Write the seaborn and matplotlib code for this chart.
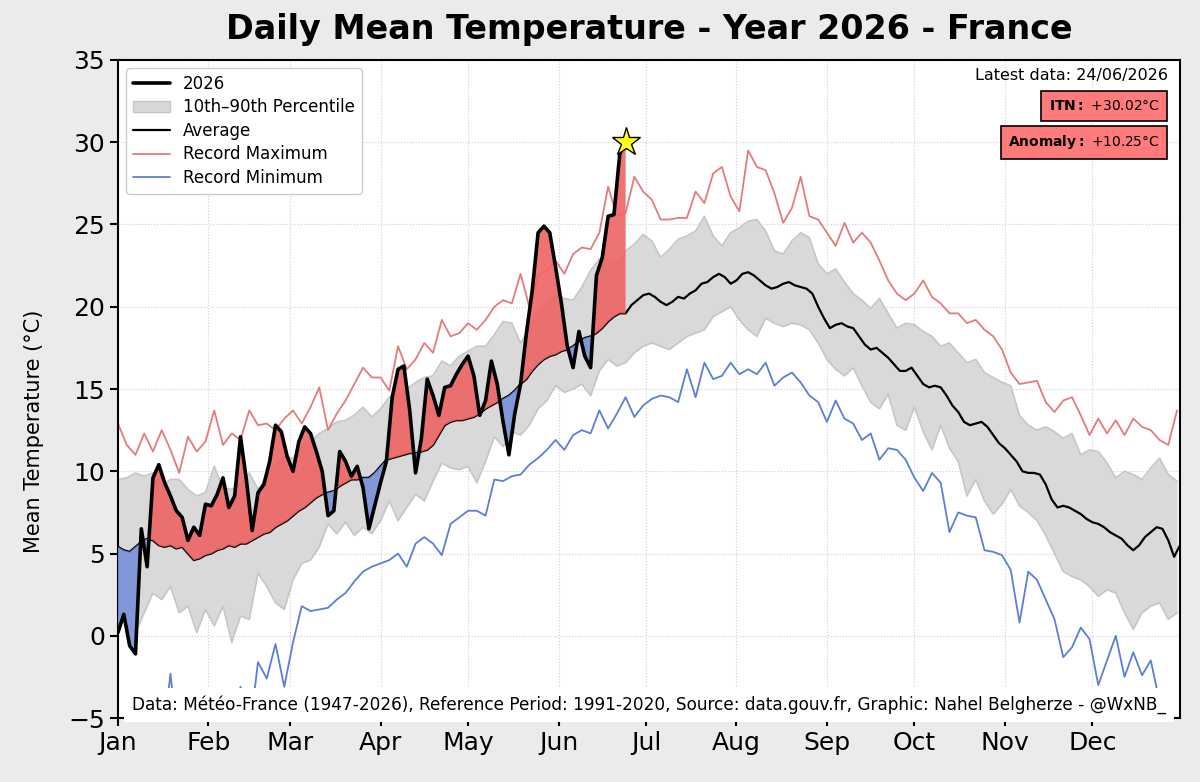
import matplotlib
matplotlib.use("Agg")
import matplotlib.pyplot as plt
import numpy as np
import seaborn as sns
from matplotlib.patches import Patch
from matplotlib.lines import Line2D

# ---- data ----
month_labels = ["Jan", "Feb", "Mar", "Apr", "May", "Jun",
                "Jul", "Aug", "Sep", "Oct", "Nov", "Dec"]
month_starts = [0, 31, 59, 90, 120, 151, 181, 212, 243, 273, 304, 334]

# climatology sampled every 3 days (day 0 .. 363)
days_clim = np.arange(0, 364, 3)
record_max = [
    12.9, 11.6, 11.0, 12.3, 11.2, 12.5, 11.3, 9.9, 12.1, 11.2,
    11.8, 13.7, 11.6, 12.3, 11.9, 13.7, 12.8, 12.9, 12.5, 13.2,
    13.7, 12.9, 13.9, 15.1, 12.5, 13.5, 14.3, 15.3, 16.3, 15.7,
    15.7, 14.9, 17.6, 16.2, 16.8, 17.8, 17.2, 19.2, 18.2, 18.4,
    19.0, 18.6, 19.2, 20.0, 20.4, 20.2, 22.0, 20.0, 21.9, 22.2,
    22.8, 22.0, 23.2, 23.6, 23.5, 24.5, 27.3, 25.5, 25.7, 27.9,
    27.0, 26.5, 25.3, 25.3, 25.4, 25.4, 27.0, 26.3, 28.1, 28.5,
    26.7, 25.8, 29.5, 28.5, 28.3, 26.9, 25.1, 26.0, 27.9, 25.5,
    25.3, 24.5, 23.7, 25.1, 23.9, 24.5, 23.9, 22.8, 21.6, 20.8,
    20.4, 20.8, 21.6, 20.6, 20.2, 19.6, 19.6, 19.0, 19.2, 18.6,
    18.2, 17.4, 16.0, 15.3, 15.4, 15.5, 14.2, 13.6, 14.3, 14.5,
    13.4, 12.2, 13.2, 12.3, 13.1, 12.2, 13.2, 12.7, 12.5, 11.9,
    11.6, 13.7,
]
record_min = [
    -9.0, -8.0, -10.0, -8.5, -9.5, -7.0, -2.3, -7.5, -9.0, -8.0,
    -10.5, -8.5, -7.5, -6.5, -3.1, -6.0, -1.6, -2.6, -0.5, -3.1,
    -0.4, 1.8, 1.5, 1.6, 1.7, 2.2, 2.6, 3.3, 3.9, 4.2,
    4.4, 4.6, 5.0, 4.2, 5.6, 6.0, 5.6, 4.9, 6.8, 7.2,
    7.6, 7.6, 7.3, 9.5, 9.4, 9.7, 9.8, 10.4, 10.8, 11.3,
    11.9, 11.3, 12.2, 12.5, 12.3, 13.7, 12.6, 13.5, 14.5, 13.3,
    14.0, 14.4, 14.6, 14.5, 14.2, 16.2, 14.5, 16.6, 15.6, 15.8,
    16.6, 15.9, 16.2, 15.9, 16.6, 15.2, 15.7, 16.0, 15.4, 14.6,
    14.2, 13.0, 14.3, 13.2, 12.9, 11.9, 12.3, 10.7, 11.4, 11.3,
    10.7, 9.6, 8.8, 9.9, 9.3, 6.3, 7.5, 7.3, 7.2, 5.2,
    5.1, 4.9, 4.0, 0.8, 3.9, 3.4, 2.2, 1.0, -1.3, -0.7,
    0.5, -0.2, -3.0, -1.5, 0.0, -2.5, -1.0, -2.4, -1.5, -4.0,
    -6.0, -5.5,
]
pct90 = [
    9.5, 9.6, 9.9, 9.7, 9.9, 9.1, 9.5, 9.5, 8.9, 8.5,
    8.7, 10.3, 9.0, 8.9, 9.2, 9.9, 8.9, 9.6, 10.4, 10.9,
    10.8, 11.6, 11.8, 12.3, 12.6, 13.0, 13.1, 13.4, 13.9, 13.3,
    13.8, 14.5, 14.7, 15.0, 15.4, 15.7, 15.8, 16.7, 16.4, 17.0,
    17.3, 17.6, 17.6, 18.3, 19.1, 19.0, 17.8, 18.7, 19.8, 20.3,
    20.8, 20.5, 20.4, 21.2, 22.2, 22.9, 22.8, 22.6, 23.4, 23.8,
    24.4, 24.0, 23.0, 23.5, 24.1, 24.3, 24.6, 25.5, 24.3, 23.7,
    24.5, 24.8, 25.2, 25.3, 24.6, 23.4, 23.2, 24.0, 24.5, 24.2,
    22.6, 22.0, 22.3, 21.5, 20.8, 20.4, 19.9, 20.5, 19.6, 18.7,
    19.0, 18.9, 18.5, 18.2, 17.6, 17.8, 17.2, 16.6, 16.8, 16.0,
    15.7, 15.4, 15.2, 13.4, 12.8, 12.5, 12.7, 12.4, 12.0, 12.3,
    11.0, 11.3, 11.2, 10.5, 9.6, 10.0, 9.8, 9.5, 10.2, 10.8,
    9.8, 9.4,
]
pct10 = [
    1.5, 0.6, 0.2, 1.4, 2.6, 2.2, 3.0, 1.4, 1.8, 0.2,
    1.6, 0.6, 1.8, -0.4, 1.2, 1.0, 3.8, 3.0, 2.0, 1.6,
    3.4, 4.4, 4.6, 5.4, 6.8, 6.2, 6.9, 6.1, 6.6, 6.2,
    7.0, 8.2, 7.0, 7.8, 8.6, 8.2, 9.4, 10.5, 10.2, 10.1,
    10.3, 9.3, 10.6, 12.1, 11.5, 12.4, 12.2, 12.8, 13.8, 14.3,
    15.2, 14.8, 15.0, 15.3, 14.6, 16.1, 16.8, 16.4, 16.6, 17.2,
    17.6, 17.8, 17.6, 17.4, 17.8, 18.2, 18.4, 18.6, 19.4, 19.7,
    20.0, 19.2, 18.6, 18.2, 19.3, 19.0, 18.8, 19.0, 18.9, 18.6,
    17.8, 16.8, 16.2, 15.8, 16.3, 15.2, 14.2, 13.8, 14.7, 12.8,
    12.5, 13.9, 12.4, 11.3, 12.8, 11.4, 10.6, 8.5, 9.5, 8.2,
    7.4, 8.0, 8.9, 7.9, 7.5, 7.0, 6.1, 5.0, 3.9, 3.6,
    3.4, 3.0, 2.4, 2.8, 2.6, 1.4, 0.4, 1.4, 1.8, 2.0,
    1.0, 1.4,
]

# average sampled every 2 days (day 0 .. 364)
days_avg = np.arange(0, 365, 2)
average = [
    5.4, 5.2, 5.1, 5.4, 5.7, 5.9, 5.8, 5.5, 5.4, 5.5,
    5.3, 5.4, 5.0, 4.6, 4.7, 4.9, 5.0, 5.2, 5.3, 5.5,
    5.4, 5.6, 5.6, 5.8, 6.0, 6.2, 6.3, 6.6, 6.8, 7.0,
    7.3, 7.6, 7.8, 8.1, 8.4, 8.6, 8.7, 8.8, 9.1, 9.3,
    9.5, 9.5, 9.6, 9.6, 9.9, 10.3, 10.7, 10.8, 10.9, 11.0,
    11.1, 11.1, 11.2, 11.3, 11.6, 12.2, 12.8, 13.0, 13.1, 13.1,
    13.2, 13.3, 13.5, 13.8, 14.0, 14.2, 14.4, 14.6, 14.9, 15.3,
    15.6, 16.1, 16.5, 16.8, 17.0, 17.1, 17.3, 17.4, 17.6, 17.9,
    18.1, 18.2, 18.4, 18.7, 19.1, 19.4, 19.6, 19.6, 20.1, 20.4,
    20.7, 20.8, 20.6, 20.3, 20.1, 20.3, 20.6, 20.5, 20.8, 21.0,
    21.4, 21.5, 21.8, 22.0, 21.8, 21.4, 21.6, 22.0, 22.1, 21.9,
    21.6, 21.3, 21.1, 21.2, 21.4, 21.5, 21.3, 21.2, 21.1, 20.8,
    20.0, 19.3, 18.7, 18.9, 19.0, 18.8, 18.7, 18.2, 17.7, 17.4,
    17.5, 17.2, 16.9, 16.5, 16.1, 16.1, 16.3, 15.8, 15.3, 15.1,
    15.2, 15.1, 14.6, 14.0, 13.6, 13.0, 12.8, 12.9, 13.0, 12.7,
    12.2, 11.7, 11.4, 11.0, 10.6, 10.0, 9.9, 9.9, 9.8, 9.2,
    8.3, 7.8, 7.9, 7.8, 7.6, 7.4, 7.1, 6.9, 6.8, 6.6,
    6.3, 6.1, 5.9, 5.5, 5.2, 5.5, 6.0, 6.3, 6.6, 6.5,
    5.8, 4.8, 5.5,
]

# 2026 observations every 2 days up to 24/06 (day 174)
days_2026 = np.arange(0, 175, 2)
temp_2026 = [
    0.2, 1.3, -0.6, -1.1, 6.5, 4.2, 9.6, 10.4, 9.3, 8.5,
    7.6, 7.2, 5.8, 6.6, 6.1, 8.0, 7.9, 8.6, 9.6, 7.8,
    8.5, 12.1, 9.5, 6.4, 8.7, 9.2, 10.6, 12.8, 12.4, 10.9,
    10.0, 11.8, 12.7, 12.3, 11.2, 10.0, 7.3, 7.6, 11.2, 10.6,
    9.7, 10.3, 9.0, 6.5, 7.9, 9.3, 10.6, 14.5, 16.2, 16.4,
    13.7, 9.9, 12.0, 15.6, 14.6, 13.4, 15.1, 15.2, 15.9, 16.5,
    17.0, 15.8, 13.4, 14.3, 16.7, 15.3, 13.0, 11.0, 13.5, 15.3,
    18.4, 21.0, 24.5, 24.9, 24.5, 22.4, 20.2, 17.6, 16.3, 18.5,
    17.0, 16.3, 21.9, 23.0, 25.5, 25.6, 29.3, 30.02,
]

latest_label = "Latest data: 24/06/2026"
itn_label = r"$\bf{ITN{:}}$ +30.02°C"
anomaly_label = r"$\bf{Anomaly{:}}$ +10.25°C"
source_label = ("Data: Météo-France (1947-2026), Reference Period: 1991-2020, "
                "Source: data.gouv.fr, Graphic: Nahel Belgherze - @WxNB_")

# ---- styling ----
sns.set_style("ticks")
plt.rcParams['font.family'] = ['DejaVu Sans']
plt.rcParams['text.color'] = 'black'
plt.rcParams['axes.labelcolor'] = 'black'
plt.rcParams['xtick.color'] = 'black'
plt.rcParams['ytick.color'] = 'black'

RED_LINE = '#e57b7b'
BLUE_LINE = '#5b7fd6'
BAND = '#d9d9d9'
BAND_EDGE = '#c6c6c6'
RED_FILL = '#ef6464'
BLUE_FILL = '#7890d8'

fig, ax = plt.subplots(figsize=(12, 7.82), dpi=100)
fig.patch.set_facecolor('#ebebeb')
ax.set_facecolor('white')
fig.subplots_adjust(left=0.0983, right=0.9833, top=0.9233, bottom=0.0818)

# percentile band
ax.fill_between(days_clim, pct10, pct90, color=BAND, lw=0, zorder=1)
sns.lineplot(x=days_clim, y=pct90, ax=ax, color=BAND_EDGE, lw=1.2, zorder=1.5)
sns.lineplot(x=days_clim, y=pct10, ax=ax, color=BAND_EDGE, lw=1.2, zorder=1.5)

# records
sns.lineplot(x=days_clim, y=record_max, ax=ax, color=RED_LINE, lw=1.3, zorder=2)
sns.lineplot(x=days_clim, y=record_min, ax=ax, color=BLUE_LINE, lw=1.3, zorder=2)

# average
sns.lineplot(x=days_avg, y=average, ax=ax, color='black', lw=1.6, zorder=3)

# anomaly fills 2026 vs average
t26 = np.array(temp_2026)
avg26 = np.array(average[:len(temp_2026)])
ax.fill_between(days_2026, t26, avg26, where=t26 >= avg26, interpolate=True,
                color=RED_FILL, alpha=0.9, lw=0, zorder=3.5)
ax.fill_between(days_2026, t26, avg26, where=t26 < avg26, interpolate=True,
                color=BLUE_FILL, alpha=0.9, lw=0, zorder=3.5)

# 2026 line + star on last value
sns.lineplot(x=days_2026, y=temp_2026, ax=ax, color='black', lw=2.6, zorder=4)
ax.plot(days_2026[-1], temp_2026[-1], marker='*', ms=21, mfc='#ffff1a',
        mec='black', mew=1.0, zorder=5, linestyle='none')

# axes
ax.set_xlim(0, 364)
ax.set_ylim(-5, 35)
ax.set_xticks(month_starts)
ax.set_xticklabels(month_labels)
ax.set_yticks(np.arange(-5, 36, 5))
ax.tick_params(axis='both', labelsize=18, length=6, width=1.5, direction='out')
ax.grid(True, linestyle=':', color='#cfcfcf', lw=0.8, zorder=0)
ax.set_axisbelow(True)
for sp in ax.spines.values():
    sp.set_visible(True)
    sp.set_linewidth(1.5)
    sp.set_color('black')

ax.set_xlabel('')
ax.set_ylabel('Mean Temperature (°C)', fontsize=15)
ax.yaxis.set_label_coords(-0.07, 0.435)
ax.set_title('Daily Mean Temperature - Year 2026 - France', fontsize=24,
             fontweight='bold', pad=15)

# legend
handles = [
    Line2D([], [], color='black', lw=2.6),
    Patch(facecolor=BAND, edgecolor=BAND_EDGE),
    Line2D([], [], color='black', lw=1.6),
    Line2D([], [], color=RED_LINE, lw=1.3),
    Line2D([], [], color=BLUE_LINE, lw=1.3),
]
labels = ['2026', '10th–90th Percentile', 'Average', 'Record Maximum',
          'Record Minimum']
leg = ax.legend(handles, labels, loc='upper left', fontsize=12,
                handlelength=2.2, labelspacing=0.33, frameon=True,
                fancybox=True, edgecolor='#cccccc', framealpha=1)
leg.set_zorder(6)

# annotations top right
ax.text(0.989, 0.977, latest_label, transform=ax.transAxes, ha='right',
        va='center', fontsize=11.5, zorder=6)
box = dict(boxstyle='square,pad=0.55', facecolor='#ff7b7b', edgecolor='black', lw=1.2)
ax.text(0.981, 0.930, itn_label, transform=ax.transAxes, ha='right',
        va='center', fontsize=10, bbox=box, zorder=6)
ax.text(0.981, 0.875, anomaly_label, transform=ax.transAxes, ha='right',
        va='center', fontsize=10, bbox=box, zorder=6)

# source line with white backing
ax.text(0.5, 0.02, source_label, transform=ax.transAxes, ha='center',
        va='center', fontsize=12.2,
        bbox=dict(boxstyle='square,pad=0.45', facecolor='white', edgecolor='none'),
        zorder=6)

fig.savefig('out.png', dpi=100, facecolor=fig.get_facecolor())
